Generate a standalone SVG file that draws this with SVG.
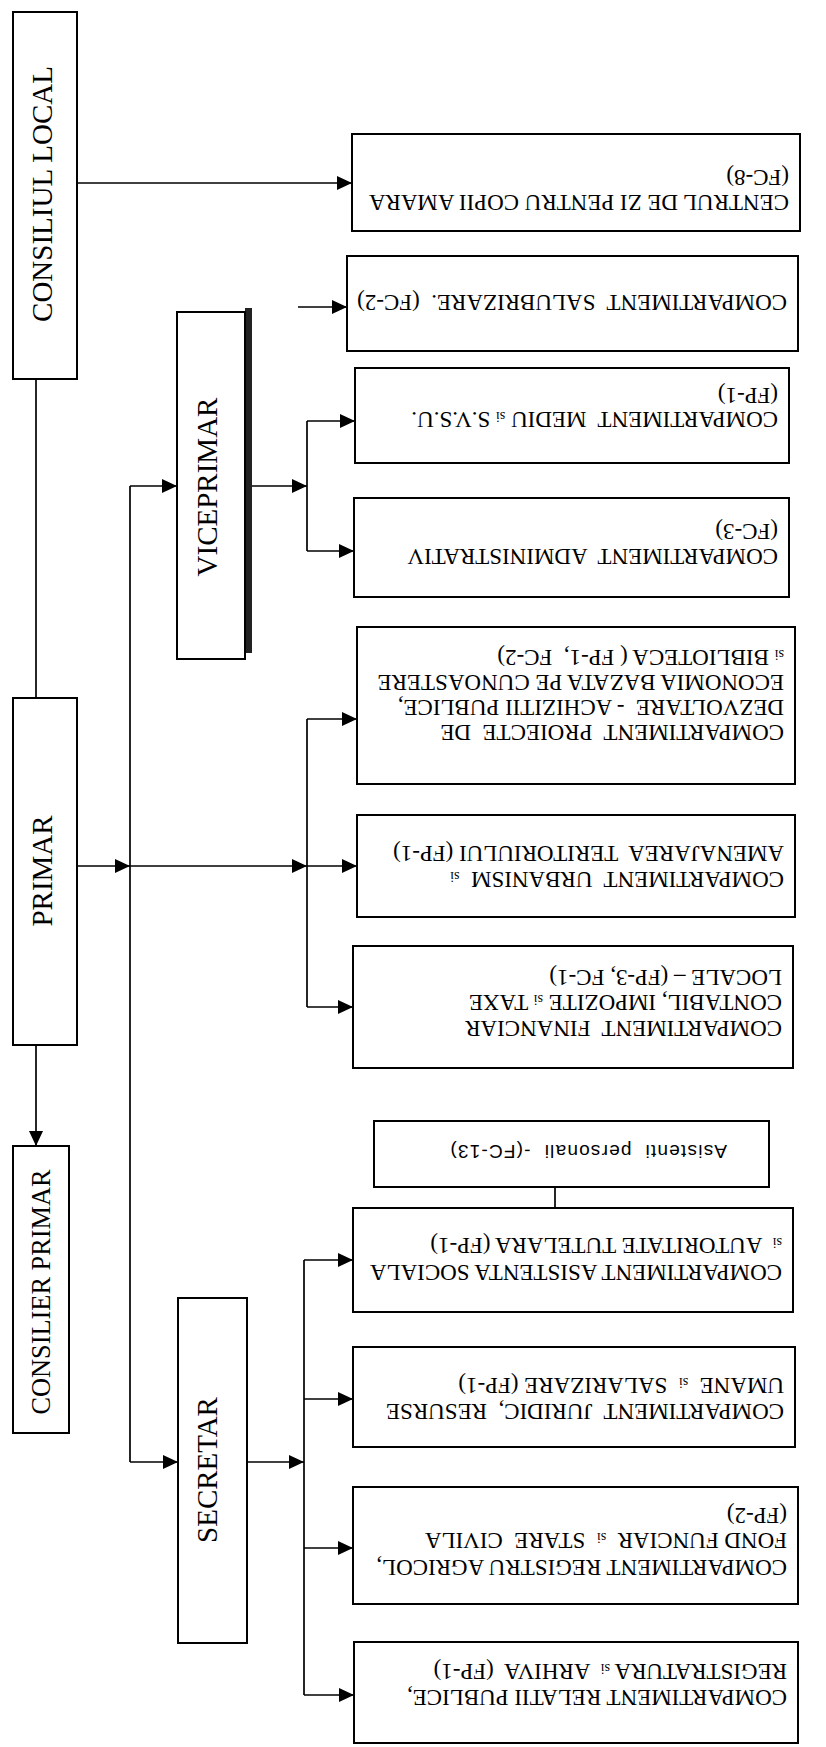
<svg xmlns="http://www.w3.org/2000/svg" width="826" height="1747" viewBox="0 0 826 1747">
<style>
.box{fill:#fff;stroke:#000;stroke-width:2}
.t{font-family:"Liberation Serif","Times New Roman",serif;font-size:23px;fill:#000}
.s{font-size:14px}
.big{font-family:"Liberation Serif","Times New Roman",serif;font-size:29px;fill:#000;text-anchor:middle}
.sans{font-family:"Liberation Sans",Arial,sans-serif;font-size:19px;letter-spacing:1.2px;fill:#000}
.c path{stroke:#000;stroke-width:1.7;fill:none}
</style>
<defs>
<marker id="ah" markerUnits="userSpaceOnUse" markerWidth="15" markerHeight="15" refX="15" refY="7.5" orient="auto">
<path d="M0,0.5 L15,7.5 L0,14.5 z" fill="#000"/>
</marker>
</defs>
<rect width="826" height="1747" fill="#fff"/>

<g class="c" id="connectors">
<path d="M77,183 H352" marker-end="url(#ah)"/>
<path d="M298,307 H347" marker-end="url(#ah)"/>
<path d="M36,379 V698"/>
<path d="M36,1045 V1146" marker-end="url(#ah)"/>
<path d="M77,866 H130" marker-end="url(#ah)"/>
<path d="M130,866 H307" marker-end="url(#ah)"/>
<path d="M307,866 H357" marker-end="url(#ah)"/>
<path d="M130,486 V1462"/>
<path d="M130,486 H177" marker-end="url(#ah)"/>
<path d="M130,1462 H178" marker-end="url(#ah)"/>
<path d="M252,486 H307" marker-end="url(#ah)"/>
<path d="M307,421 V551"/>
<path d="M307,421 H355" marker-end="url(#ah)"/>
<path d="M307,551 H354" marker-end="url(#ah)"/>
<path d="M307,719 V1007"/>
<path d="M307,719 H357" marker-end="url(#ah)"/>
<path d="M307,1007 H353" marker-end="url(#ah)"/>
<path d="M247,1462 H304" marker-end="url(#ah)"/>
<path d="M304,1260 V1695"/>
<path d="M304,1260 H353" marker-end="url(#ah)"/>
<path d="M304,1399 H353" marker-end="url(#ah)"/>
<path d="M304,1548 H353" marker-end="url(#ah)"/>
<path d="M304,1695 H354" marker-end="url(#ah)"/>
<path d="M555,1187 V1208"/>
</g>

<g id="consiliul-local">
<rect class="box" x="13" y="12" width="64" height="367"/>
<text class="big" transform="translate(52,194) rotate(-90)">CONSILIUL LOCAL</text>
</g>

<g id="primar">
<rect class="box" x="13" y="698" width="64" height="347"/>
<text class="big" transform="translate(52,871) rotate(-90)">PRIMAR</text>
</g>

<g id="consilier-primar">
<rect class="box" x="13" y="1146" width="56" height="287"/>
<text class="big" style="font-size:28px" textLength="245" lengthAdjust="spacingAndGlyphs" transform="translate(50,1292) rotate(-90)">CONSILIER PRIMAR</text>
</g>

<g id="viceprimar">
<rect x="245" y="308" width="7" height="345" fill="#222"/>
<rect class="box" x="177" y="312" width="68" height="347"/>
<text class="big" transform="translate(217,487) rotate(-90)">VICEPRIMAR</text>
</g>

<g id="secretar">
<rect class="box" x="178" y="1298" width="69" height="345"/>
<text class="big" transform="translate(217,1470) rotate(-90)">SECRETAR</text>
</g>

<g id="centrul-de-zi">
<rect class="box" x="352" y="134" width="448" height="97"/>
<g transform="rotate(180 576 182.5)">
<text class="t" x="363" y="170">CENTRUL DE ZI PENTRU COPII AMARA</text>
<text class="t" x="363" y="195">(FC-8)</text>
</g>
</g>

<g id="salubrizare">
<rect class="box" x="347" y="256" width="451" height="95"/>
<g transform="rotate(180 572.5 303.5)">
<text class="t" xml:space="preserve" x="358" y="312">COMPARTIMENT  SALUBRIZARE.  (FC-2)</text>
</g>
</g>

<g id="mediu">
<rect class="box" x="355" y="368" width="434" height="95"/>
<g transform="rotate(180 572 415.5)">
<text class="t" xml:space="preserve" x="366" y="419">COMPARTIMENT  MEDIU <tspan class="s">si</tspan> S.V.S.U.</text>
<text class="t" x="366" y="443">(FP-1)</text>
</g>
</g>

<g id="administrativ">
<rect class="box" x="354" y="498" width="435" height="99"/>
<g transform="rotate(180 571.5 547.5)">
<text class="t" xml:space="preserve" x="365" y="546">COMPARTIMENT  ADMINISTRATIV</text>
<text class="t" x="365" y="571">(FC-3)</text>
</g>
</g>

<g id="proiecte">
<rect class="box" x="357" y="627" width="438" height="157"/>
<g transform="rotate(180 576 705.5)">
<text class="t" xml:space="preserve" x="368" y="686">COMPARTIMENT  PROIECTE  DE</text>
<text class="t" xml:space="preserve" x="368" y="711">DEZVOLTARE  - ACHIZITII PUBLICE,</text>
<text class="t" xml:space="preserve" x="368" y="736">ECONOMIA BAZATA PE CUNOASTERE</text>
<text class="t" xml:space="preserve" x="368" y="761"><tspan class="s">si</tspan> BIBLIOTECA ( FP-1,  FC-2)</text>
</g>
</g>

<g id="urbanism">
<rect class="box" x="357" y="815" width="438" height="102"/>
<g transform="rotate(180 576 866)">
<text class="t" xml:space="preserve" x="368" y="860">COMPARTIMENT  URBANISM  <tspan class="s">si</tspan></text>
<text class="t" xml:space="preserve" x="368" y="886">AMENAJAREA  TERITORIULUI (FP-1)</text>
</g>
</g>

<g id="financiar">
<rect class="box" x="353" y="946" width="440" height="122"/>
<g transform="rotate(180 573 1007)">
<text class="t" xml:space="preserve" x="364" y="993">COMPARTIMENT  FINANCIAR</text>
<text class="t" xml:space="preserve" x="364" y="1019">CONTABIL, IMPOZITE <tspan class="s">si</tspan> TAXE</text>
<text class="t" xml:space="preserve" x="364" y="1044">LOCALE – (FP-3, FC-1)</text>
</g>
</g>

<g id="asistenti-personali">
<rect class="box" x="374" y="1121" width="395" height="66"/>
<g transform="rotate(180 571.5 1154)">
<text class="sans" xml:space="preserve" x="416" y="1163">Asistenti  personali  -(FC-13)</text>
</g>
</g>

<g id="asistenta-sociala">
<rect class="box" x="353" y="1208" width="440" height="104"/>
<g transform="rotate(180 573 1260)">
<text class="t" xml:space="preserve" x="364" y="1255">COMPARTIMENT ASISTENTA SOCIALA</text>
<text class="t" xml:space="preserve" x="364" y="1282"><tspan class="s">si</tspan>  AUTORITATE TUTELARA (FP-1)</text>
</g>
</g>

<g id="juridic">
<rect class="box" x="353" y="1347" width="442" height="100"/>
<g transform="rotate(180 574 1397)">
<text class="t" xml:space="preserve" x="364" y="1390">COMPARTIMENT  JURIDIC,  RESURSE</text>
<text class="t" xml:space="preserve" x="364" y="1416">UMANE  <tspan class="s">si</tspan>  SALARIZARE (FP-1)</text>
</g>
</g>

<g id="registru-agricol">
<rect class="box" x="353" y="1487" width="445" height="117"/>
<g transform="rotate(180 575.5 1545.5)">
<text class="t" xml:space="preserve" x="364" y="1531">COMPARTIMENT REGISTRU AGRICOL,</text>
<text class="t" xml:space="preserve" x="364" y="1558">FOND FUNCIAR  <tspan class="s">si</tspan>  STARE  CIVILA</text>
<text class="t" xml:space="preserve" x="364" y="1583">(FP-2)</text>
</g>
</g>

<g id="relatii-publice">
<rect class="box" x="354" y="1642" width="444" height="101"/>
<g transform="rotate(180 576 1692.5)">
<text class="t" xml:space="preserve" x="365" y="1695">COMPARTIMENT RELATII PUBLICE,</text>
<text class="t" xml:space="preserve" x="365" y="1721">REGISTRATURA <tspan class="s">si</tspan>  ARHIVA  (FP-1)</text>
</g>
</g>
</svg>
